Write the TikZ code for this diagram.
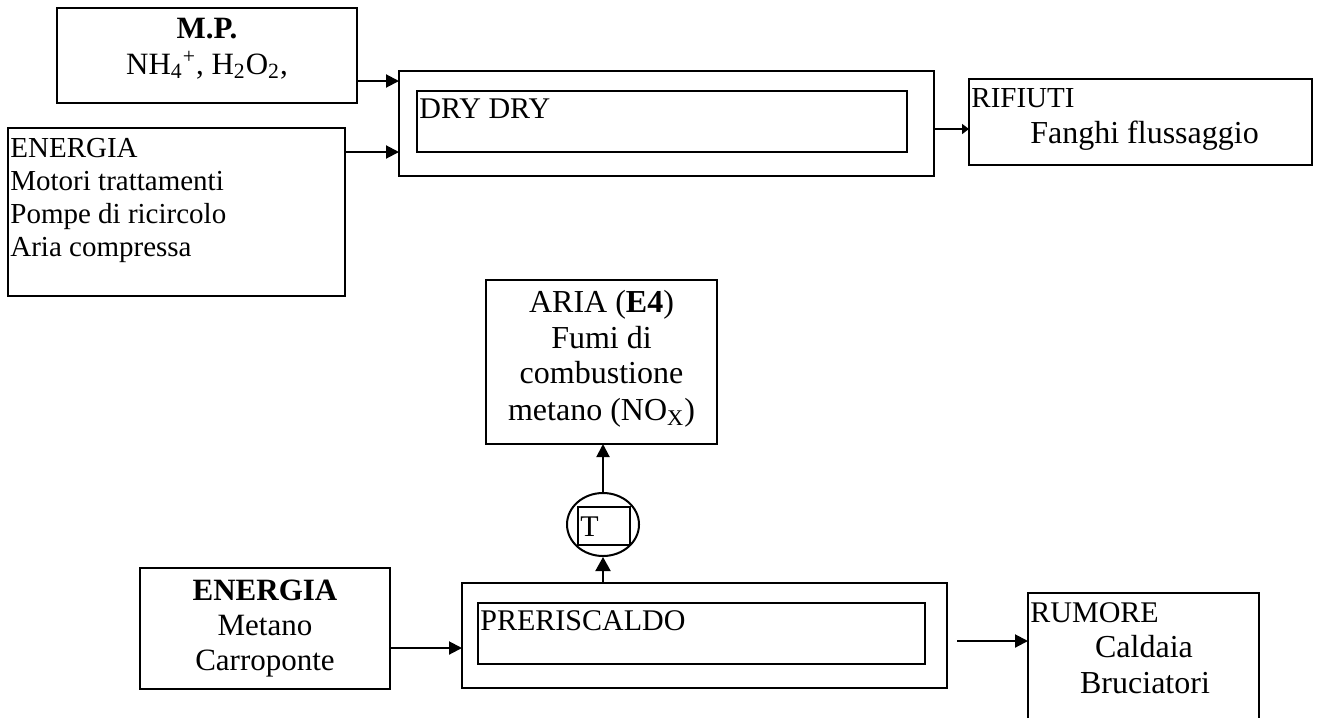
\documentclass[tikz,border=0pt]{standalone}
\usepackage{fontspec}
\setmainfont{Liberation Serif}
\usetikzlibrary{arrows.meta,shapes.geometric}
\tikzset{
  box/.style={draw, line width=1pt, inner sep=0pt, outer sep=0pt, anchor=north west},
  fs/.style={inner sep=0pt, font=\fontsize{#1}{#1}\selectfont},
  tl/.style={fs=#1, anchor=base west},
  tl/.default=14.5,
  tc/.style={fs=#1, anchor=base},
  tc/.default=14.5,
  arr/.style={line width=1pt, -{Triangle[length=6.5pt,width=6.5pt]}},
  arrb/.style={line width=1pt, -{Triangle[length=7pt,width=7.5pt]}},
  arrs/.style={line width=1pt, -{Triangle[length=3.5pt,width=5pt]}}
}
\begin{document}
\begin{tikzpicture}[x=0.5pt,y=-0.5pt]
\useasboundingbox (0,0) rectangle (1320,718);
% boxes
\node[box, minimum width=150pt, minimum height=47.5pt] (mp) at (57,8) {};
\node[box, minimum width=168.5pt, minimum height=84pt] (en1) at (8,128) {};
\node[box, minimum width=267.5pt, minimum height=52.5pt] (dryo) at (399,71) {};
\node[box, minimum width=245pt, minimum height=30.5pt] (dryi) at (417,91) {};
\node[box, minimum width=171.5pt, minimum height=43pt] (rif) at (969,79) {};
\node[box, minimum width=115.5pt, minimum height=82pt] (aria) at (486,280) {};
\node[draw, line width=1pt, ellipse, inner sep=0pt, minimum width=36pt, minimum height=31.5pt] (ell) at (603,524.5) {};
\node[box, minimum width=26pt, minimum height=19pt] (tbox) at (578,507) {};
\node[box, minimum width=125pt, minimum height=60.5pt] (en2) at (140,568) {};
\node[box, minimum width=242.5pt, minimum height=52.5pt] (preo) at (462,583) {};
\node[box, minimum width=223.5pt, minimum height=30.5pt] (prei) at (478,603) {};
\node[inner sep=0pt, outer sep=0pt, anchor=north west, minimum width=115.5pt, minimum height=62.5pt] (rum) at (1028,593) {};
\draw[line width=1pt] (rum.south west) -- (rum.north west) -- (rum.north east) -- (rum.south east);
% texts
\node[tc=15.5] (t1) at (207,38) {\textbf{M.P.}};
\node[tc=15.5] (t2) at (207,74) {NH\textsubscript{4}\textsuperscript{+}, H\textsubscript{2}O\textsubscript{2},};
\node[tl] (t3) at (10,157) {ENERGIA};
\node[tl] (t4) at (10,190) {Motori trattamenti};
\node[tl] (t5) at (10,223) {Pompe di ricircolo};
\node[tl] (t6) at (10,256) {Aria compressa};
\node[tl=15] (t7) at (419,118) {DRY DRY};
\node[tl=14.5] (t8) at (971,107) {RIFIUTI};
\node[tc=16] (t9) at (1144.5,143) {Fanghi flussaggio};
\node[tc=16] (t10) at (601.5,312) {ARIA (\textbf{E4})};
\node[tc=16] (t11) at (601.5,348) {Fumi di};
\node[tc=16] (t12) at (601.5,383) {combustione};
\node[tc=16] (t13) at (601.5,420) {metano (NO\textsubscript{X})};
\node[tl=15] (t14) at (580,536) {T};
\node[tc=15.5] (t15) at (265,600) {\textbf{ENERGIA}};
\node[tc=15.5] (t16) at (265,635) {Metano};
\node[tc=15.5] (t17) at (265,670) {Carroponte};
\node[tl=15] (t18) at (480,630) {PRERISCALDO};
\node[tl=15] (t19) at (1030,622) {RUMORE};
\node[tc=16] (t20) at (1144,657) {Caldaia};
\node[tc=16] (t21) at (1145,693) {Bruciatori};
% connectors
\coordinate (c1) at (357,81);
\coordinate (c2) at (345,152);
\coordinate (c3) at (934,129);
\coordinate (c4) at (390,648);
\coordinate (c5) at (957,641);
\draw[arr] (c1) -- (c1 -| dryo.west);
\draw[arr] (c2) -- (c2 -| dryo.west);
\draw[arrs] (c3) -- (c3 -| rif.west);
\draw[arr] (ell.north) -- (ell.north |- aria.south);
\draw[arrb] (ell.south |- preo.north) -- (ell.south);
\draw[arr] (c4) -- (c4 -| preo.west);
\draw[arr] (c5) -- (c5 -| rum.west);
\end{tikzpicture}
\end{document}
